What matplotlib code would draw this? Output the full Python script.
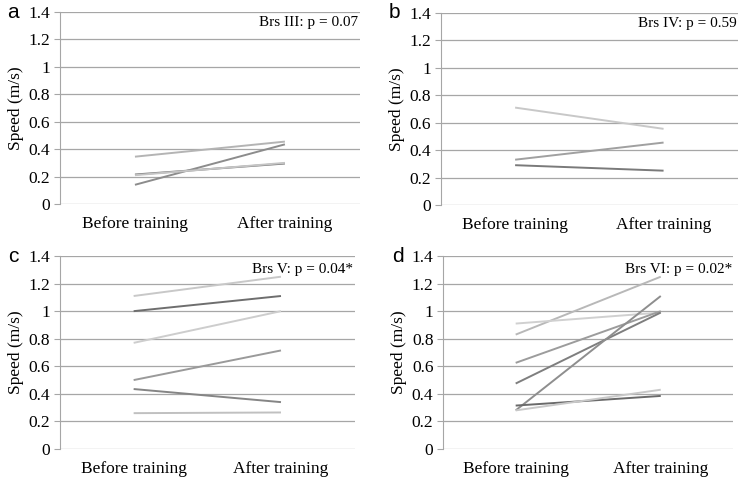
import numpy as np
import matplotlib.pyplot as plt

categories = ["Before training", "After training"]

# panel a: Brs III
a_before = [0.345, 0.14, 0.215, 0.21]
a_after = [0.455, 0.435, 0.295, 0.30]
a_colors = ["#b4b4b4", "#8c8c8c", "#7a7a7a", "#c4c4c4"]

# panel b: Brs IV
b_before = [0.71, 0.33, 0.29]
b_after = [0.555, 0.455, 0.25]
b_colors = ["#c8c8c8", "#a0a0a0", "#7a7a7a"]

# panel c: Brs V
c_before = [1.11, 1.0, 0.77, 0.5, 0.435, 0.26]
c_after = [1.25, 1.11, 1.0, 0.715, 0.34, 0.265]
c_colors = ["#c8c8c8", "#6e6e6e", "#cdcdcd", "#9a9a9a", "#858585", "#c0c0c0"]

# panel d: Brs VI
d_before = [0.83, 0.91, 0.625, 0.475, 0.28, 0.315, 0.28]
d_after = [1.25, 0.99, 1.0, 0.99, 1.11, 0.385, 0.43]
d_colors = ["#b8b8b8", "#d0d0d0", "#9c9c9c", "#7e7e7e", "#8e8e8e", "#6a6a6a", "#c8c8c8"]

panels = [
    ("a", "Brs III: p = 0.07", a_before, a_after, a_colors, [0.0804, 0.575, 0.402, 0.40], 1.32),
    ("b", "Brs IV: p = 0.59", b_before, b_after, b_colors, [0.591, 0.573, 0.398, 0.40], 1.32),
    ("c", "Brs V: p = 0.04*", c_before, c_after, c_colors, [0.0804, 0.0646, 0.395, 0.402], 1.30),
    ("d", "Brs VI: p = 0.02*", d_before, d_after, d_colors, [0.594, 0.0646, 0.389, 0.402], 1.30),
]

serif = ["Liberation Serif", "DejaVu Serif"]

fig = plt.figure(figsize=(7.46, 4.80), dpi=100)

for letter, note, before, after, colors, pos, note_y in panels:
    ax = fig.add_axes(pos)
    x = np.arange(len(categories))
    for b, a, c in zip(before, after, colors):
        ax.plot(x, [b, a], color=c, linewidth=1.4, solid_capstyle="butt")
    ax.set_xlim(-0.5, 1.5)
    ax.set_ylim(0, 1.4)
    ax.set_yticks(np.arange(0, 1.41, 0.2))
    ax.set_yticklabels(["0", "0.2", "0.4", "0.6", "0.8", "1", "1.2", "1.4"],
                       fontfamily=serif, fontsize=12.5)
    ax.set_xticks(x)
    ax.set_xticklabels(categories, fontfamily=serif, fontsize=12.5)
    ax.tick_params(axis="x", length=0, pad=9)
    ax.tick_params(axis="y", length=4, color="#a6a6a6", pad=3)
    ax.grid(axis="y", color="#a6a6a6", linewidth=0.9)
    ax.set_axisbelow(True)
    for s in ["top", "right", "bottom"]:
        ax.spines[s].set_visible(False)
    ax.spines["left"].set_color("#a6a6a6")
    ax.set_ylabel("Speed (m/s)", fontfamily=serif, fontsize=12.5, labelpad=3)
    ax.text(0.995, note_y, note, transform=ax.get_yaxis_transform(),
            ha="right", va="center", fontfamily=serif, fontsize=11)
    ax.text(-0.175, 1.0, letter, transform=ax.transAxes, ha="left", va="center",
            fontfamily=["Liberation Sans", "DejaVu Sans"], fontsize=15)

fig.savefig("out.png", dpi=100)
